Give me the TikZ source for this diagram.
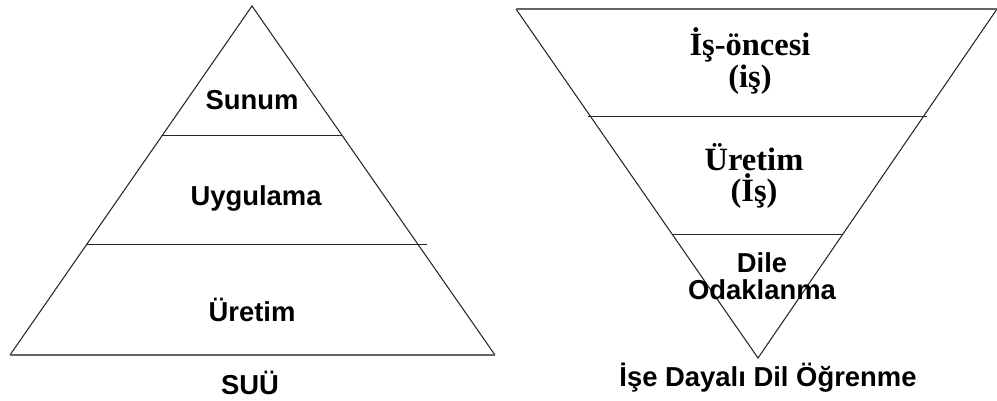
\documentclass[tikz,border=0pt]{standalone}
\usepackage{fontspec}
\setmainfont{Liberation Serif}
\setsansfont{Liberation Sans}
\usetikzlibrary{calc}
\begin{document}
\begin{tikzpicture}[x=0.02cm, y=-0.02cm,
    edge/.style={line width=0.6pt, black!85},
    baseline/.style={line width=1.6pt, gray!80!black},
    sanslbl/.style={font=\sffamily\bfseries\fontsize{15.6}{15.4}\selectfont, align=center, inner sep=0pt},
    seriflbl/.style={font=\rmfamily\bfseries\fontsize{18.5}{18}\selectfont, align=center, inner sep=0pt}]
  \useasboundingbox (0,0) rectangle (997,400);
  % pyramid (SUU)
  \coordinate (ltop) at (252,6);
  \coordinate (lbl) at (10,355);
  \coordinate (lbr) at (495,355);
  \draw[edge] (lbl) -- (ltop) -- (lbr);
  \draw[baseline] (lbl) -- (lbr);
  \draw[edge] ($(ltop)!.372!(lbl)$) -- ($(ltop)!.372!(lbr)$);
  \draw[edge] ($(ltop)!.682!(lbl)$) -- ($(ltop)!.682!(lbr)+(9,0)$);
  \node[sanslbl] (sunum) at (252,100) {Sunum};
  \node[sanslbl] (uygulama) at (256,198) {Uygulama};
  \node[sanslbl] (uretim) at (252,310) {Üretim};
  \node[sanslbl] (suu) at (250,383) {SUÜ};
  % inverted pyramid
  \coordinate (rtl) at (516,9);
  \coordinate (rtr) at (997,9);
  \coordinate (rbot) at (758,358);
  \draw[edge] (rtl) -- (rbot) -- (rtr);
  \draw[baseline] (rtl) -- (rtr);
  \draw[edge] ($(rtl)!.307!(rbot)+(-2,0)$) -- ($(rtr)!.307!(rbot)+(3,0)$);
  \draw[edge] ($(rtl)!.645!(rbot)$) -- ($(rtr)!.645!(rbot)$);
  \node[seriflbl] (isoncesi) at (750,61) {İş-öncesi\\(iş)};
  \node[seriflbl] (isuretim) at (754,176) {Üretim\\(İş)};
  \node[sanslbl] (dile) at (762,276) {Dile\\Odaklanma};
  \node[sanslbl] (ido) at (768,378) {İşe Dayalı Dil Öğrenme};
\end{tikzpicture}
\end{document}
